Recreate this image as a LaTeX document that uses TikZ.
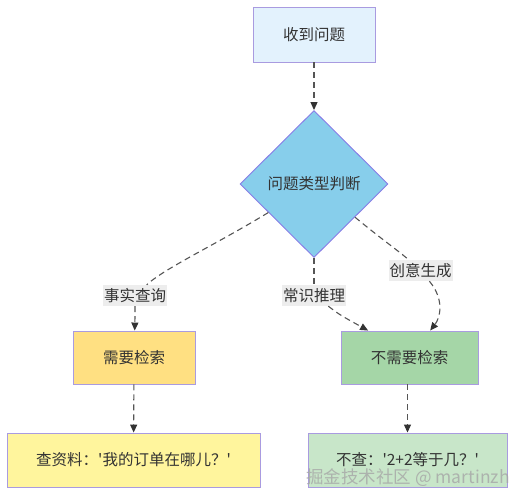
\documentclass[tikz,border=0pt]{standalone}
\usepackage{fontspec}
\newfontfamily\cjk{Noto Sans CJK SC}
\usetikzlibrary{shapes.geometric,arrows.meta,calc}
\definecolor{txt}{HTML}{333333}
\definecolor{edge}{HTML}{555555}
\definecolor{bord}{HTML}{A99BE0}
\definecolor{topfill}{HTML}{E3F2FD}
\definecolor{diafill}{HTML}{87CEEB}
\definecolor{yelfill}{HTML}{FFE082}
\definecolor{yel2fill}{HTML}{FFF59D}
\definecolor{grnfill}{HTML}{A5D6A7}
\definecolor{grn2fill}{HTML}{C8E6C9}
\definecolor{lblfill}{HTML}{EDEDED}
\begin{document}
\begin{tikzpicture}[x=1pt,y=-1pt,
  every node/.style={font=\cjk\fontsize{15.5}{18}\selectfont, text=txt},
  box/.style={draw=bord, line width=0.9pt, inner sep=0pt},
  lbl/.style={fill=lblfill, inner sep=1pt, minimum height=21pt},
  conn/.style={draw=edge, line width=1.1pt, dash pattern=on 6pt off 4pt, -{Triangle[length=8pt,width=7pt]}, arrows={[color=txt]}},
  connplain/.style={draw=edge, line width=1.1pt, dash pattern=on 6pt off 4pt}]
\useasboundingbox (0,0) rectangle (526,502);
\node[box, fill=topfill, minimum width=122pt, minimum height=55pt] (top) at (314,34.5) {收到问题};
\node[box, diamond, fill=diafill, draw=bord!80!blue, minimum width=148pt, minimum height=147pt] (dia) at (314,184) {问题类型判断};
\node[box, fill=yelfill, minimum width=122pt, minimum height=53pt] (yel) at (134,357.5) {需要检索};
\node[box, fill=grnfill, minimum width=137pt, minimum height=53pt] (grn) at (409.5,357.5) {不需要检索};
\node[box, fill=yel2fill, minimum width=253pt, minimum height=54pt] (yel2) at (133.5,460) {查资料：'我的订单在哪儿？'};
\node[box, fill=grn2fill, minimum width=199pt, minimum height=54pt] (grn2) at (407.5,460) {不查：'2+2等于几？'};
\node[lbl] (l1) at (135,295.5) {事实查询};
\node[lbl] (l2) at (314,295.5) {常识推理};
\node[lbl] (l3) at (420.5,270.5) {创意生成};
\node[text=gray!70, opacity=0.8, font=\cjk\fontsize{17.5}{20}\selectfont] (wm) at (408,478) {掘金技术社区 @ martinzh};
\draw[conn] (top) -- (dia.north);
\draw[connplain] (dia.212) .. controls (215,245) and (165,268) .. (l1);
\draw[conn] (l1) .. controls (135,318) .. (yel);
\draw[connplain] (dia.south) -- (l2);
\draw[conn] (l2) .. controls (340,315) .. ($(grn.north west)!0.2!(grn.north east)$);
\draw[connplain] (dia.-39) .. controls (380,238) and (400,252) .. (l3);
\draw[conn] (l3) .. controls (445,300) and (440,318) .. ($(grn.north west)!0.65!(grn.north east)$);
\draw[conn] (yel) -- (yel2);
\draw[conn] (grn.south -| grn2) -- (grn2);
\end{tikzpicture}
\end{document}
